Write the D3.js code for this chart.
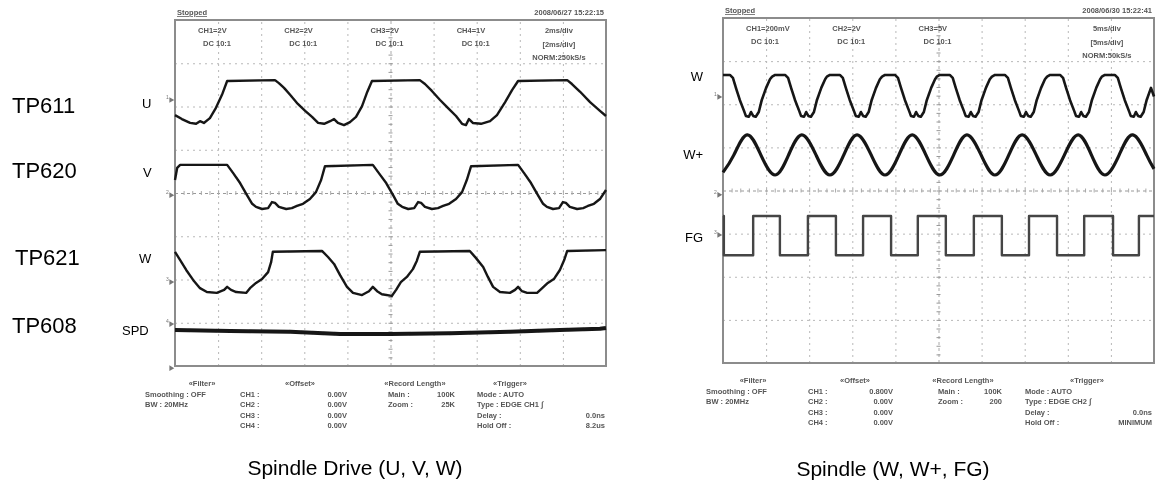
<!DOCTYPE html>
<html><head><meta charset="utf-8">
<script src="https://cdn.jsdelivr.net/npm/d3@7"></script>
<style>
body{margin:0;background:#fff;}
svg{display:block;font-family:"Liberation Sans",Arial,sans-serif;}
</style></head><body>
<svg id="chart" width="1160" height="494"></svg>
<script>
// ---------- DATA (time in divisions 0..10, level in divisions -4..4) ----------
const uTrace = [[0.00,1.80],[0.16,1.71],[0.35,1.62],[0.49,1.60],[0.58,1.66],[0.67,1.62],[0.81,1.73],[0.95,1.97],[1.09,2.27],[1.21,2.59],[2.32,2.61],[2.41,2.54],[2.53,2.43],[2.67,2.27],[2.85,2.06],[3.02,1.90],[3.18,1.76],[3.32,1.62],[3.46,1.60],[3.60,1.66],[3.69,1.71],[3.78,1.62],[3.92,1.57],[4.06,1.64],[4.20,1.76],[4.34,2.01],[4.45,2.31],[4.57,2.59],[5.68,2.61],[5.80,2.52],[5.96,2.36],[6.15,2.15],[6.33,1.97],[6.52,1.78],[6.66,1.60],[6.75,1.57],[6.82,1.71],[6.91,1.62],[7.10,1.60],[7.31,1.66],[7.47,1.80],[7.66,2.10],[7.82,2.38],[7.96,2.59],[9.10,2.61],[9.21,2.52],[9.40,2.34],[9.63,2.10],[9.86,1.90],[10.00,1.78]];
const vTrace = [[0.00,0.30],[0.05,0.58],[0.12,0.65],[1.21,0.65],[1.35,0.46],[1.51,0.23],[1.67,-0.05],[1.79,-0.25],[1.88,-0.32],[2.02,-0.37],[2.16,-0.35],[2.25,-0.21],[2.32,-0.23],[2.41,-0.32],[2.58,-0.37],[2.71,-0.35],[2.83,-0.30],[2.97,-0.25],[3.13,-0.14],[3.27,0.02],[3.39,0.30],[3.48,0.62],[4.59,0.65],[4.73,0.46],[4.90,0.23],[5.06,-0.05],[5.17,-0.25],[5.27,-0.32],[5.41,-0.37],[5.55,-0.35],[5.64,-0.21],[5.71,-0.23],[5.80,-0.32],[5.96,-0.37],[6.10,-0.35],[6.22,-0.30],[6.36,-0.25],[6.52,-0.14],[6.66,0.02],[6.77,0.30],[6.87,0.62],[7.96,0.65],[8.10,0.46],[8.26,0.23],[8.42,-0.05],[8.54,-0.25],[8.63,-0.32],[8.77,-0.37],[8.91,-0.35],[9.00,-0.21],[9.07,-0.23],[9.16,-0.32],[9.33,-0.37],[9.47,-0.35],[9.58,-0.30],[9.72,-0.25],[9.86,-0.14],[10.00,0.07]];
const wTrace = [[0.00,-1.36],[0.12,-1.55],[0.26,-1.78],[0.42,-2.01],[0.58,-2.20],[0.74,-2.29],[0.97,-2.31],[1.14,-2.24],[1.21,-2.17],[1.30,-2.24],[1.42,-2.29],[1.65,-2.31],[1.74,-2.20],[1.88,-2.08],[2.02,-1.99],[2.16,-1.83],[2.23,-1.60],[2.27,-1.36],[3.41,-1.34],[3.55,-1.48],[3.69,-1.64],[3.83,-1.90],[3.99,-2.17],[4.13,-2.31],[4.34,-2.36],[4.50,-2.27],[4.59,-2.17],[4.69,-2.27],[4.80,-2.34],[5.03,-2.38],[5.13,-2.24],[5.24,-2.06],[5.38,-1.94],[5.52,-1.76],[5.61,-1.57],[5.68,-1.36],[6.84,-1.34],[6.98,-1.50],[7.15,-1.71],[7.26,-1.94],[7.38,-2.17],[7.54,-2.29],[7.77,-2.31],[7.89,-2.24],[7.96,-2.17],[8.05,-2.27],[8.17,-2.31],[8.40,-2.31],[8.52,-2.20],[8.65,-2.08],[8.79,-1.99],[8.93,-1.78],[9.03,-1.55],[9.10,-1.34],[10.00,-1.32]];
const spdTrace = [[0.00,-3.17],[1.28,-3.19],[2.67,-3.21],[3.83,-3.26],[4.99,-3.26],[6.38,-3.24],[7.77,-3.21],[8.93,-3.17],[9.86,-3.14],[10.00,-3.12]];

const wRightTrace = [[0.00,2.68],[0.16,2.68],[0.23,2.61],[0.30,2.38],[0.39,2.10],[0.49,1.84],[0.53,1.73],[0.60,1.71],[0.65,1.82],[0.70,1.73],[0.76,1.71],[0.83,1.82],[0.90,2.10],[1.00,2.38],[1.09,2.58],
[1.14,2.64],[1.21,2.68],[1.44,2.68],[1.51,2.61],[1.58,2.38],[1.67,2.10],[1.77,1.84],[1.81,1.73],[1.88,1.71],[1.93,1.82],[1.98,1.73],[2.04,1.71],[2.11,1.82],[2.18,2.10],[2.28,2.38],[2.37,2.58],
[2.41,2.64],[2.48,2.68],[2.71,2.68],[2.78,2.61],[2.85,2.38],[2.94,2.10],[3.04,1.84],[3.08,1.73],[3.15,1.71],[3.20,1.82],[3.25,1.73],[3.31,1.71],[3.38,1.82],[3.45,2.10],[3.55,2.38],[3.64,2.58],
[3.69,2.64],[3.76,2.68],[3.99,2.68],[4.06,2.61],[4.13,2.38],[4.22,2.10],[4.32,1.84],[4.36,1.73],[4.43,1.71],[4.48,1.82],[4.53,1.73],[4.59,1.71],[4.66,1.82],[4.73,2.10],[4.83,2.38],[4.92,2.58],
[4.96,2.64],[5.03,2.68],[5.26,2.68],[5.33,2.61],[5.40,2.38],[5.49,2.10],[5.59,1.84],[5.63,1.73],[5.70,1.71],[5.75,1.82],[5.80,1.73],[5.86,1.71],[5.93,1.82],[6.00,2.10],[6.10,2.38],[6.19,2.58],
[6.24,2.64],[6.31,2.68],[6.54,2.68],[6.61,2.61],[6.68,2.38],[6.77,2.10],[6.87,1.84],[6.91,1.73],[6.98,1.71],[7.03,1.82],[7.08,1.73],[7.14,1.71],[7.21,1.82],[7.28,2.10],[7.38,2.38],[7.47,2.58],
[7.52,2.64],[7.59,2.68],[7.82,2.68],[7.89,2.61],[7.96,2.38],[8.05,2.10],[8.15,1.84],[8.19,1.73],[8.26,1.71],[8.31,1.82],[8.36,1.73],[8.42,1.71],[8.49,1.82],[8.56,2.10],[8.66,2.38],[8.75,2.58],
[8.79,2.64],[8.86,2.68],[9.09,2.68],[9.16,2.61],[9.23,2.38],[9.32,2.10],[9.42,1.84],[9.46,1.73],[9.53,1.71],[9.58,1.82],[9.63,1.73],[9.69,1.71],[9.76,1.82],[9.83,2.10],[9.93,2.38],[10.00,2.18]];
const wPlusTrace = [[0.00,0.42],[0.25,0.82],[0.56,1.29],[0.88,0.82],[1.21,0.36],[1.52,0.82],[1.83,1.29],[2.16,0.82],[2.48,0.36],[2.80,0.82],[3.11,1.29],[3.44,0.82],[3.76,0.36],[4.08,0.82],[4.39,1.29],[4.71,0.82],[5.03,0.36],[5.35,0.82],[5.66,1.29],[5.99,0.82],[6.31,0.36],[6.63,0.82],[6.94,1.29],[7.27,0.82],[7.59,0.36],[7.92,0.82],[8.24,1.29],[8.55,0.82],[8.86,0.36],[9.19,0.82],[9.51,1.29],[9.83,0.82],[10.00,0.50]];
const fgTrace = [[0.00,-0.59],[0.02,-1.50],[0.70,-0.59],[1.32,-1.50],[1.97,-0.59],[2.62,-1.50],[3.25,-0.59],[3.90,-1.50],[4.52,-0.59],[5.17,-1.50],[5.82,-0.59],[6.47,-1.50],[7.10,-0.59],[7.75,-1.50],[8.38,-0.59],[9.05,-1.50],[9.65,-0.59],[10.00,-0.59]];

// ground markers (channel number, level)
const leftMarkers = [["1",2.15],["2",-0.05],["3",-2.06],["4",-3.03],["",-4.05]];
const rightMarkers = [["1",2.17],["2",-0.10],["3",-1.03]];

// texts
const leftStatus = ["Stopped","2008/06/27  15:22:15"];
const rightStatus = ["Stopped","2008/06/30  15:22:41"];
const leftChannelNames = ["CH1=2V","CH2=2V","CH3=2V","CH4=1V"];
const leftCoupling = ["DC  10:1","DC  10:1","DC  10:1","DC  10:1"];
const leftTimebase = ["2ms/div","[2ms/div]","NORM:250kS/s"];
const rightChannelNames = ["CH1=200mV","CH2=2V","CH3=5V"];
const rightCoupling = ["DC  10:1","DC  10:1","DC  10:1"];
const rightTimebase = ["5ms/div","[5ms/div]","NORM:50kS/s"];

const footerHeads = ["«Filter»","«Offset»","«Record Length»","«Trigger»"];
const filterLines = ["Smoothing : OFF","BW : 20MHz"];
const offsetLabels = ["CH1 :","CH2 :","CH3 :","CH4 :"];
const leftOffsetValues = ["0.00V","0.00V","0.00V","0.00V"];
const rightOffsetValues = ["0.800V","0.00V","0.00V","0.00V"];
const recordLabels = ["Main :","Zoom :"];
const leftRecordValues = ["100K","25K"];
const rightRecordValues = ["100K","200"];
const triggerLabels = ["Mode : AUTO","Type : EDGE CH1  \u222B","Delay :","Hold Off :"];
const rightTriggerLabels = ["Mode : AUTO","Type : EDGE CH2  \u222B","Delay :","Hold Off :"];
const leftTriggerValues = ["","","0.0ns","8.2us"];
const rightTriggerValues = ["","","0.0ns","MINIMUM"];

const testPoints = ["TP611","TP620","TP621","TP608"];
const leftSignalNames = ["U","V","W","SPD"];
const rightSignalNames = ["W","W+","FG"];
const captions = ["Spindle Drive (U, V, W)","Spindle (W, W+, FG)"];

// ---------- DRAWING ----------
const svg = d3.select("#chart");
const defs = svg.append("defs");
defs.append("filter").attr("id","soft").attr("x","-5%").attr("y","-5%").attr("width","110%").attr("height","110%")
  .append("feGaussianBlur").attr("stdDeviation",0.45);

function drawScope(cfg){
  const g = svg.append("g").attr("filter","url(#soft)");
  const x = d3.scaleLinear().domain([0,10]).range([cfg.x0,cfg.x1]);
  const y = d3.scaleLinear().domain([-4,4]).range([cfg.y1,cfg.y0]);
  const W = cfg.x1-cfg.x0, H = cfg.y1-cfg.y0;

  // grid lines via axes
  const gx = g.append("g").attr("transform",`translate(0,${cfg.y1})`)
    .call(d3.axisBottom(x).tickValues([1,2,3,4,6,7,8,9]).tickSize(-H).tickFormat(""));
  const gy = g.append("g").attr("transform",`translate(${cfg.x0},0)`)
    .call(d3.axisLeft(y).tickValues([-3,-2,-1,1,2,3]).tickSize(-W).tickFormat(""));
  [gx,gy].forEach(a=>{a.select(".domain").remove();
    a.selectAll("line").attr("stroke","#b8b8b8").attr("stroke-width",1).attr("stroke-dasharray","2,4");});
  // center cross
  const cyL = g.append("g").attr("transform",`translate(${cfg.x0},0)`)
    .call(d3.axisLeft(y).tickValues([0]).tickSize(-W).tickFormat(""));
  cyL.select(".domain").remove();
  cyL.selectAll("line").attr("stroke","#999").attr("stroke-width",1.2).attr("stroke-dasharray","3,3");
  const cxL = g.append("g").attr("transform",`translate(0,${cfg.y1})`)
    .call(d3.axisBottom(x).tickValues([5]).tickSize(-H).tickFormat(""));
  cxL.select(".domain").remove();
  cxL.selectAll("line").attr("stroke","#aaa").attr("stroke-width",1).attr("stroke-dasharray","3,3");
  // minor ticks on centre lines
  const minorY = d3.range(-4,4.001,0.2);
  g.append("g").attr("transform",`translate(${x(5)+2},0)`)
    .call(d3.axisLeft(y).tickValues(minorY).tickSize(4).tickFormat(""))
    .call(a=>{a.select(".domain").remove(); a.selectAll("line").attr("stroke","#999");});
  const minorX = d3.range(0,10.001,0.2);
  g.append("g").attr("transform",`translate(0,${y(0)-2})`)
    .call(d3.axisBottom(x).tickValues(minorX).tickSize(4).tickFormat(""))
    .call(a=>{a.select(".domain").remove(); a.selectAll("line").attr("stroke","#aaa");});

  // frame
  g.append("rect").attr("x",cfg.x0).attr("y",cfg.y0).attr("width",W).attr("height",H)
    .attr("fill","none").attr("stroke","#8c8c8c").attr("stroke-width",2);

  // header text
  const tf = (sel,size)=>sel.attr("font-size",size).attr("font-weight","bold").attr("fill","#555");
  tf(g.append("text").attr("x",cfg.x0+2).attr("y",cfg.y0-5).text(cfg.status[0]),7.5)
    .attr("text-decoration","underline");
  tf(g.append("text").attr("x",cfg.x1-2).attr("y",cfg.y0-5).attr("text-anchor","end").text(cfg.status[1]),7.5);
  cfg.names.forEach((n,i)=>{
    tf(g.append("text").attr("x",x(1+2*i)-20).attr("y",cfg.y0+13).text(n),7.5);
    tf(g.append("text").attr("x",x(1+2*i)-15).attr("y",cfg.y0+26).text(cfg.coupling[i]),7.5);
  });
  cfg.timebase.forEach((t,i)=>{
    tf(g.append("text").attr("x",x(9)-4).attr("y",cfg.y0+13+13.5*i).attr("text-anchor","middle").text(t),7.5);
  });

  // traces
  const line = d3.line().x(d=>x(d[0])).y(d=>y(d[1]));
  cfg.traces.forEach(t=>{
    g.append("path").datum(t.data)
      .attr("d",line.curve(t.curve||d3.curveLinear))
      .attr("fill","none").attr("stroke",t.color||"#161616")
      .attr("stroke-width",t.width||2.4).attr("stroke-linejoin","round");
  });

  // ground markers
  cfg.markers.forEach(m=>{
    g.append("path").attr("d",d3.symbol(d3.symbolTriangle,14)())
      .attr("transform",`translate(${cfg.x0-4},${y(m[1])}) rotate(90)`).attr("fill","#777");
    g.append("text").attr("x",cfg.x0-9).attr("y",y(m[1])-1).attr("font-size",5).attr("fill","#777").text(m[0]);
  });

  // footer
  const f = cfg.footer;
  const rows = [cfg.y1+20, cfg.y1+30.5, cfg.y1+41, cfg.y1+51.5, cfg.y1+62];
  const ft = (xx,yy,t,anchor)=>tf(g.append("text").attr("x",xx).attr("y",yy).attr("text-anchor",anchor||"start").text(t),7.5);
  footerHeads.forEach((h,i)=>ft(f.heads[i],rows[0],h,"middle"));
  filterLines.forEach((t,i)=>ft(f.filterX,rows[1+i],t));
  offsetLabels.forEach((t,i)=>{ft(f.offLblX,rows[1+i],t); ft(f.offValX,rows[1+i],cfg.offVals[i],"end");});
  recordLabels.forEach((t,i)=>{ft(f.recLblX,rows[1+i],t); ft(f.recValX,rows[1+i],cfg.recVals[i],"end");});
  cfg.trigLbls.forEach((t,i)=>{ft(f.trigX,rows[1+i],t); if(cfg.trigVals[i]) ft(f.trigValX,rows[1+i],cfg.trigVals[i],"end");});
  return {x,y};
}

const left = drawScope({
  x0:175,x1:606,y0:20,y1:366,
  status:leftStatus,names:leftChannelNames,coupling:leftCoupling,timebase:leftTimebase,
  traces:[{data:uTrace},{data:vTrace},{data:wTrace},{data:spdTrace,width:4}],
  markers:leftMarkers,
  offVals:leftOffsetValues,recVals:leftRecordValues,trigLbls:triggerLabels,trigVals:leftTriggerValues,
  footer:{heads:[202,300,415,510],filterX:145,offLblX:240,offValX:347,recLblX:388,recValX:455,trigX:477,trigValX:605}
});
const right = drawScope({
  x0:723,x1:1154,y0:18,y1:363,
  status:rightStatus,names:rightChannelNames,coupling:rightCoupling,timebase:rightTimebase,
  traces:[{data:wRightTrace,width:2.6},{data:wPlusTrace,width:3.2,curve:d3.curveNatural},{data:fgTrace,width:2.4,color:"#444",curve:d3.curveStepAfter}],
  markers:rightMarkers,
  offVals:rightOffsetValues,recVals:rightRecordValues,trigLbls:rightTriggerLabels,trigVals:rightTriggerValues,
  footer:{heads:[753,855,963,1087],filterX:706,offLblX:808,offValX:893,recLblX:938,recValX:1002,trigX:1025,trigValX:1152}
});

// outer labels
const tpY = [113,178,265,333], tpX=[12,12,15,12];
testPoints.forEach((t,i)=>svg.append("text").attr("x",tpX[i]).attr("y",tpY[i]).attr("font-size",22).attr("fill","#000").text(t));
const sigY = [108,177,263,335], sigX=[142,143,139,122];
leftSignalNames.forEach((t,i)=>svg.append("text").attr("x",sigX[i]).attr("y",sigY[i]).attr("font-size",13).attr("fill","#000").text(t));
const rsY = [81,159,242];
rightSignalNames.forEach((t,i)=>svg.append("text").attr("x",703).attr("y",rsY[i]).attr("text-anchor","end").attr("font-size",13).attr("fill","#000").text(t));
svg.append("text").attr("x",355).attr("y",475).attr("text-anchor","middle").attr("font-size",21).attr("fill","#000").text(captions[0]);
svg.append("text").attr("x",893).attr("y",476).attr("text-anchor","middle").attr("font-size",21).attr("fill","#000").text(captions[1]);
</script>
</body></html>
